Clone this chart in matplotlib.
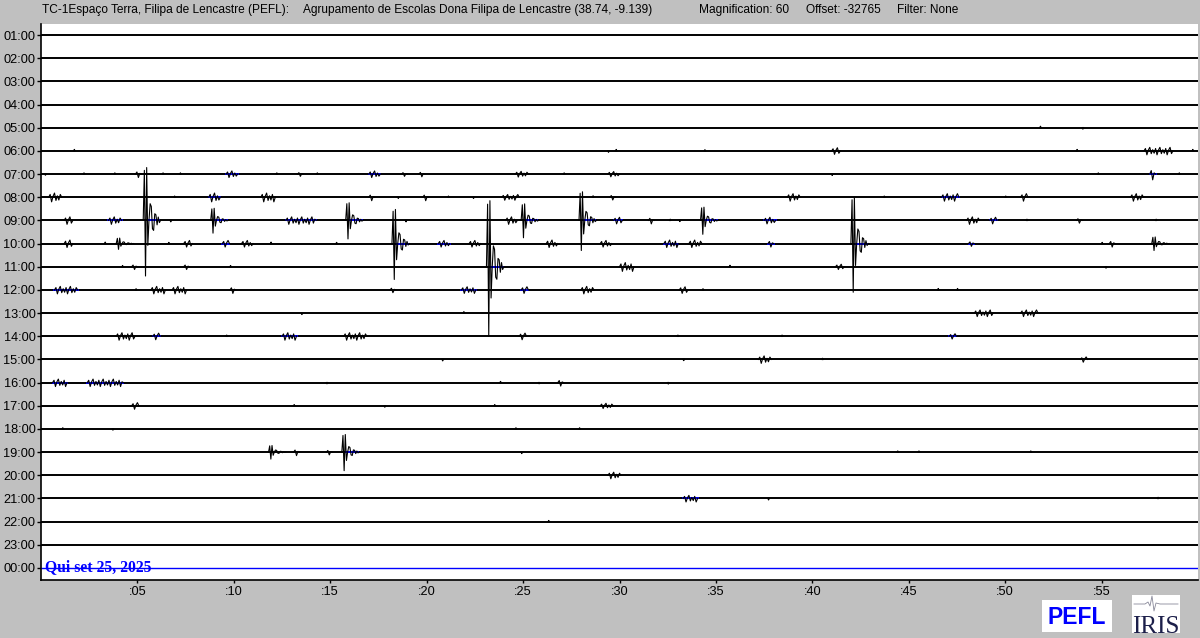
import numpy as np
import matplotlib
matplotlib.use("Agg")
import matplotlib.pyplot as plt
from matplotlib.patches import Rectangle

# ---------------- data ----------------
hour_labels = ["01:00", "02:00", "03:00", "04:00", "05:00", "06:00", "07:00", "08:00",
               "09:00", "10:00", "11:00", "12:00", "13:00", "14:00", "15:00", "16:00",
               "17:00", "18:00", "19:00", "20:00", "21:00", "22:00", "23:00", "00:00"]
minute_ticks = [5, 10, 15, 20, 25, 30, 35, 40, 45, 50, 55]
minute_labels = [":05", ":10", ":15", ":20", ":25", ":30", ":35", ":40", ":45", ":50", ":55"]

header_station = "TC-1Espaço Terra, Filipa de Lencastre (PEFL):"
header_site = "Agrupamento de Escolas Dona Filipa de Lencastre (38.74, -9.139)"
header_mag = "Magnification: 60"
header_offset = "Offset: -32765"
header_filter = "Filter: None"
date_label = "Qui set 25, 2025"

# single-sample blips: row index, minute, amplitude (in row spacings, + = up)
dot_row = [4, 4,
           5, 5, 5, 5, 5, 5,
           6, 6, 6, 6, 6, 6, 6, 6, 6, 6, 6,
           7, 7, 7, 7, 7, 7, 7,
           8, 8, 8, 8, 8, 8,
           9, 9, 9, 9, 9,
           10, 10, 10, 10,
           11, 11, 11, 11,
           12, 12,
           13, 13, 13,
           14, 14, 14,
           15, 15, 15, 15,
           16, 16, 16,
           17, 17, 17, 17,
           18, 18, 18, 18,
           20, 20,
           21]
dot_min = [51.8, 54.0,
           1.7, 29.4, 29.8, 34.4, 53.7, 59.7,
           0.2, 2.2, 3.8, 6.3, 7.2, 12.2, 14.3, 27.1, 41.0, 54.8, 59.0,
           6.9, 18.5, 21.1, 22.4, 28.6, 43.7, 50.0,
           6.7, 18.9, 32.6, 33.1, 51.1, 57.8,
           3.3, 6.6, 11.9, 15.3, 55.0,
           4.2, 9.8, 35.7, 55.2,
           4.9, 34.3, 46.5, 47.5,
           13.5, 21.9,
           9.6, 33.0, 38.4,
           20.8, 33.3, 40.5,
           14.8, 23.8, 25.8, 32.5,
           13.1, 17.8, 23.5,
           1.1, 3.7, 24.6, 27.9,
           24.9, 44.4, 45.5, 51.3,
           37.7, 57.9,
           26.3]
dot_amp = [0.06, -0.06,
           0.06, -0.06, 0.06, 0.05, 0.06, 0.06,
           -0.05, 0.05, 0.05, 0.05, 0.05, 0.05, 0.05, 0.05, -0.06, 0.05, 0.05,
           0.05, -0.05, 0.05, -0.05, 0.06, 0.05, 0.05,
           -0.06, -0.06, 0.05, -0.05, 0.05, 0.05,
           0.06, 0.05, 0.06, 0.05, 0.05,
           0.05, 0.05, 0.06, -0.06,
           0.05, 0.05, 0.06, 0.06,
           -0.06, 0.06,
           0.05, 0.05, 0.05,
           -0.06, -0.05, 0.05,
           -0.05, 0.05, -0.05, -0.06,
           0.05, -0.06, 0.05,
           0.05, -0.05, 0.05, 0.05,
           -0.06, 0.05, 0.05, 0.05,
           -0.06, 0.05,
           0.05]

# small wiggle bursts: row, start minute, length (min), amplitude, drawn with blue centre
wig_row = [5, 5,
           6, 6, 6, 6, 6, 6, 6, 6, 6,
           7, 7, 7, 7, 7, 7, 7, 7, 7, 7, 7,
           8, 8, 8, 8, 8, 8, 8, 8, 8, 8,
           9, 9, 9, 9, 9, 9, 9, 9, 9, 9, 9, 9, 9,
           10, 10, 10, 10,
           11, 11, 11, 11, 11, 11, 11, 11, 11,
           12, 12,
           13, 13, 13, 13, 13, 13,
           14, 14,
           15, 15, 15,
           16, 16,
           18, 18,
           19,
           20]
wig_min = [41.0, 57.2,
           4.9, 9.6, 13.3, 17.0, 18.7, 19.6, 24.6, 29.4, 57.5,
           0.4, 8.7, 11.4, 17.0, 19.8, 23.9, 29.5, 38.7, 46.7, 50.8, 56.5,
           1.2, 3.5, 12.7, 24.1, 29.7, 31.5, 37.5, 48.0, 49.2, 53.7,
           1.2, 7.4, 9.4, 10.4, 20.6, 22.2, 26.2, 29.0, 32.3, 33.6, 37.7, 48.1, 55.4,
           4.7, 7.4, 30.0, 41.2,
           0.7, 5.7, 6.8, 9.8, 18.1, 21.8, 24.9, 28.0, 33.1,
           48.4, 50.8,
           3.9, 5.8, 12.5, 15.7, 24.8, 47.1,
           37.2, 53.9,
           0.6, 2.4, 26.8,
           4.7, 29.0,
           13.1, 14.8,
           29.4,
           33.3]
wig_len = [0.4, 1.4,
           0.2, 0.5, 0.15, 0.55, 0.25, 0.2, 0.6, 0.5, 0.25,
           0.6, 0.5, 0.7, 0.2, 0.2, 0.8, 0.2, 0.6, 0.8, 0.3, 0.6,
           0.4, 0.6, 1.5, 0.5, 0.4, 0.2, 0.5, 0.6, 0.3, 0.15,
           0.4, 0.4, 0.3, 0.5, 0.5, 0.5, 0.5, 0.5, 0.7, 0.6, 0.2, 0.2, 0.2,
           0.2, 0.2, 0.7, 0.4,
           1.1, 0.7, 0.7, 0.2, 0.2, 0.7, 0.3, 0.6, 0.4,
           0.9, 0.8,
           0.9, 0.3, 0.7, 1.1, 0.3, 0.3,
           0.6, 0.3,
           0.7, 1.8, 0.2,
           0.3, 0.6,
           0.2, 0.2,
           0.6,
           0.7]
wig_amp = [0.15, 0.17,
           0.15, 0.15, 0.10, 0.15, 0.10, 0.12, 0.13, 0.12, 0.25,
           0.20, 0.20, 0.20, 0.15, 0.15, 0.13, 0.12, 0.17, 0.17, 0.17, 0.17,
           0.17, 0.17, 0.17, 0.17, 0.15, 0.15, 0.15, 0.17, 0.15, 0.12,
           0.17, 0.15, 0.15, 0.15, 0.15, 0.15, 0.17, 0.15, 0.17, 0.17, 0.15, 0.12, 0.15,
           0.12, 0.12, 0.20, 0.12,
           0.17, 0.17, 0.17, 0.15, 0.12, 0.15, 0.15, 0.17, 0.15,
           0.15, 0.15,
           0.17, 0.15, 0.17, 0.17, 0.15, 0.12,
           0.17, 0.12,
           0.17, 0.17, 0.15,
           0.15, 0.12,
           0.15, 0.12,
           0.15,
           0.15]
wig_blue = [0, 0,
            0, 1, 0, 1, 0, 0, 0, 0, 1,
            0, 1, 0, 0, 0, 0, 0, 0, 1, 0, 0,
            0, 1, 1, 0, 1, 0, 1, 0, 1, 0,
            0, 0, 1, 0, 1, 0, 0, 0, 1, 0, 1, 1, 0,
            0, 0, 0, 0,
            1, 0, 0, 0, 0, 1, 1, 0, 0,
            0, 0,
            0, 1, 1, 0, 0, 1,
            0, 0,
            1, 1, 0,
            0, 0,
            0, 0,
            0,
            1]

# earthquake-like events: row, onset minute, peak amplitude (row spacings), blue centre
quake_row = [8, 8, 8, 9, 10, 8, 8, 8, 9, 9, 9, 18, 18]
quake_min = [5.3, 8.8, 15.8, 18.2, 23.1, 24.9, 27.9, 34.2, 42.0, 57.6, 3.9, 11.8, 15.6]
quake_amp = [2.4, 0.55, 0.8, 1.55, 3.0, 0.75, 1.3, 0.6, 2.1, 0.3, 0.25, 0.3, 0.8]
quake_blue = [1, 1, 1, 1, 1, 1, 1, 1, 1, 0, 0, 0, 1]

# waveform templates (relative sample values)
wiggle_shape = [0.6, -1.0, 0.2, 0.9, -0.7, 0.3, -0.6]
quake_shape = [0.0, 0.9, -1.0, 0.95, -0.45, 0.0, 0.3, 0.25, -0.15, -0.18, 0.12, 0.1,
               -0.08, 0.06, -0.04, 0.0]
dot_shape = [0.0, 1.0, 0.0]

# ---------------- drawing ----------------
W, H, DPI = 1200, 638, 100
fig = plt.figure(figsize=(W / DPI, H / DPI), dpi=DPI, facecolor="#c0c0c0")
px_x = lambda x: x / W
px_y = lambda y: 1 - y / H

ax_l, ax_r, ax_t, ax_b = 41, 1198, 24, 580
ax = fig.add_axes([px_x(ax_l), px_y(ax_b), (ax_r - ax_l) / W, (ax_b - ax_t) / H])
ax.set_facecolor("white")

row_px = (568 - 35) / 23.0
top_lim = -(35 - ax_t) / row_px
bot_lim = 23 + (ax_b - 568) / row_px
ax.set_xlim(0, 60)
ax.set_ylim(bot_lim, top_lim)

nrows = len(hour_labels)
# baselines
for i in range(nrows):
    if i == nrows - 1:
        ax.plot([0, 60], [i, i], color="#0000ff", lw=1.0, zorder=2, solid_capstyle="butt")
    else:
        ax.plot([0, 60], [i, i], color="black", lw=1.4, zorder=2, solid_capstyle="butt")

BLK = "black"
BLUE = "#0000ff"

# dots
for r, m, a in zip(dot_row, dot_min, dot_amp):
    xs = m + np.array([0.0, 0.03, 0.06])
    ys = r - a * np.array(dot_shape)
    ax.plot(xs, ys, color=BLK, lw=0.9, zorder=3)

# wiggles
dt = 0.075
for r, m, L, a, b in zip(wig_row, wig_min, wig_len, wig_amp, wig_blue):
    n = max(int(round(L / dt)), 3)
    vals = np.concatenate([[0.0], np.resize(np.array(wiggle_shape), n), [0.0]])
    xs = m + dt * np.arange(len(vals))
    ys = r - a * vals
    if b:
        ax.plot([xs[0], xs[-1]], [r, r], color=BLUE, lw=1.3, zorder=3)
    ax.plot(xs, ys, color=BLK, lw=0.8, zorder=4)

# quakes
qdt = 0.06
for r, m, a, b in zip(quake_row, quake_min, quake_amp, quake_blue):
    vals = np.array(quake_shape)
    xs = m + qdt * np.arange(len(vals))
    ys = r - a * vals
    if b:
        ax.plot([xs[4], xs[-2]], [r, r], color=BLUE, lw=1.3, zorder=3)
    ax.plot(xs, ys, color=BLK, lw=0.8, zorder=4)

# axes styling
for s in ["top", "right"]:
    ax.spines[s].set_visible(False)
for s in ["left", "bottom"]:
    ax.spines[s].set_color("black")
    ax.spines[s].set_linewidth(1.2)

tick_font = dict(family=["Liberation Sans", "DejaVu Sans"], size=9.2, color="black")
ax.set_yticks(range(nrows))
ax.set_yticklabels(hour_labels, **tick_font)
ax.set_xticks(minute_ticks)
ax.set_xticklabels(minute_labels, **tick_font)
ax.tick_params(axis="y", direction="out", length=3, width=1, pad=1)
ax.tick_params(axis="x", direction="out", length=2, width=1, pad=2)

# date label on the last trace
ax.text(0.2, 23.13, date_label, color=BLUE, fontsize=11.3, fontweight="bold",
        family=["Liberation Serif", "DejaVu Serif"], ha="left", va="baseline", zorder=5)

# header
hdr_font = dict(family=["Liberation Sans", "DejaVu Sans"], size=8.6, color="black",
                va="center", ha="left")
hy = px_y(10)
fig.text(px_x(42), hy, header_station, **hdr_font)
fig.text(px_x(303), hy, header_site, **hdr_font)
fig.text(px_x(699), hy, header_mag, **hdr_font)
fig.text(px_x(806), hy, header_offset, **hdr_font)
fig.text(px_x(897), hy, header_filter, **hdr_font)

# PEFL logo box
fig.patches.append(Rectangle((px_x(1042), px_y(632)), 70 / W, 32 / H, transform=fig.transFigure,
                             facecolor="white", edgecolor="none", zorder=1))
fig.text(px_x(1077), px_y(617), "PEFL", color=BLUE, fontsize=16.5, fontweight="bold",
         family=["Liberation Sans", "DejaVu Sans"], ha="center", va="center")

# IRIS logo box
fig.patches.append(Rectangle((px_x(1132), px_y(633)), 48 / W, 38 / H, transform=fig.transFigure,
                             facecolor="white", edgecolor="none", zorder=1))
fig.text(px_x(1156), px_y(633), "IRIS", color="#1c1f4a", fontsize=18,
         family=["Liberation Serif", "DejaVu Serif"], ha="center", va="baseline")
lx = [1134, 1145, 1148, 1150, 1152, 1154, 1156, 1160, 1178]
ly = [604, 604, 602, 606, 596, 611, 603, 604, 604]
fig.lines.append(plt.Line2D([px_x(v) for v in lx], [px_y(v) for v in ly],
                            transform=fig.transFigure, color="#888899", lw=0.6))

fig.savefig("out.png", dpi=DPI, facecolor=fig.get_facecolor())
